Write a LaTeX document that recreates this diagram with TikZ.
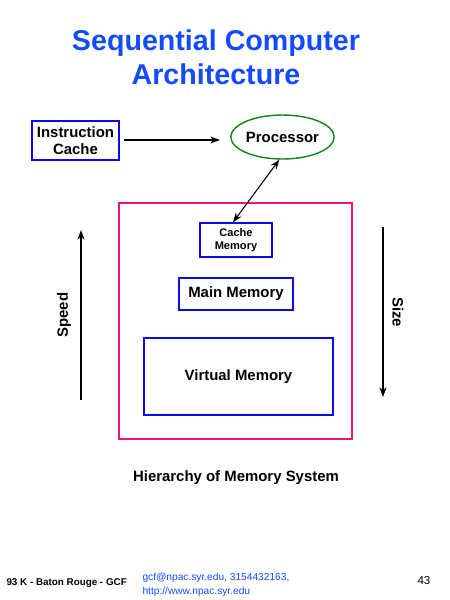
\documentclass[tikz,border=0pt]{standalone}
\usepackage{fontspec}
\setmainfont{Liberation Sans}
\usetikzlibrary{shapes.geometric,arrows.meta}
\definecolor{titleblue}{RGB}{20,75,255}
\definecolor{boxblue}{RGB}{10,10,225}
\definecolor{hierpink}{RGB}{235,20,120}
\definecolor{procgreen}{RGB}{20,130,20}
\tikzset{
  membox/.style={draw=boxblue,line width=0.8pt,inner sep=0pt,align=center},
  lbl/.style={font=\fontsize{8.5}{10}\selectfont\bfseries},
}
\begin{document}
\begin{tikzpicture}[x=0.02cm,y=-0.02cm,>={Stealth[length=5.5pt,width=4pt]},line width=0.6pt]
            \useasboundingbox (0,0) rectangle (450,600);
            % title
            \node[text=titleblue,align=center,font=\fontsize{16.3}{19.3}\selectfont\bfseries] (title) at (216,57) {Sequential Computer\\Architecture};
            % instruction cache and processor
            \node[membox,lbl,minimum width=1.74cm,minimum height=0.78cm] (icache) at (75.5,140.5) {Instruction\\Cache};
            \node[ellipse,draw=procgreen,line width=0.8pt,lbl,minimum width=1.98cm,minimum height=0.88cm,inner sep=0pt] (proc) at (282.5,137) {Processor};
            \coordinate (icin) at (220,140);
            \draw[->] (icache.east |- icin) ++(4,0) -- (icin);
            % memory hierarchy
            \draw[hierpink,line width=0.8pt] (119,203) rectangle (352,439);
            \node[membox,minimum width=1.44cm,minimum height=0.68cm,font=\fontsize{6.3}{7}\selectfont\bfseries] (cache) at (236,240) {Cache\\Memory};
            \node[membox,lbl,minimum width=2.28cm,minimum height=0.64cm] (main) at (236,294) {Main Memory};
            \node[membox,lbl,minimum width=3.78cm,minimum height=1.54cm] (virt) at (238.5,376.5) {Virtual Memory};
            \draw[<->] (proc.262) -- ([xshift=-0.06cm]cache.north);
            % speed and size
            \coordinate (speedlo) at (81,400);
            \coordinate (speedhi) at (81,230);
            \draw[->] (speedlo) -- (speedhi);
            \node[lbl,rotate=90] (speed) at (64,315) {Speed};
            \coordinate (sizehi) at (383,227);
            \coordinate (sizelo) at (383,397);
            \draw[->] (sizehi) -- (sizelo);
            \node[lbl,rotate=-90] (size) at (398,312) {Size};
            \node[lbl] (hier) at (236,478) {Hierarchy of Memory System};
            % footer
            \node[anchor=west,inner sep=0pt,font=\fontsize{5.6}{7}\selectfont\bfseries] (place) at (6,583) {93 K - Baton Rouge - GCF};
            \node[anchor=west,inner sep=0pt,text=titleblue,align=left,font=\fontsize{5.8}{7.6}\selectfont] (mail) at (142,585) {gcf@npac.syr.edu, 3154432163,\\http://www.npac.syr.edu};
            \node[inner sep=0pt,font=\fontsize{6.6}{8}\selectfont] (page) at (424,581) {43};
        \end{tikzpicture}
\end{document}
